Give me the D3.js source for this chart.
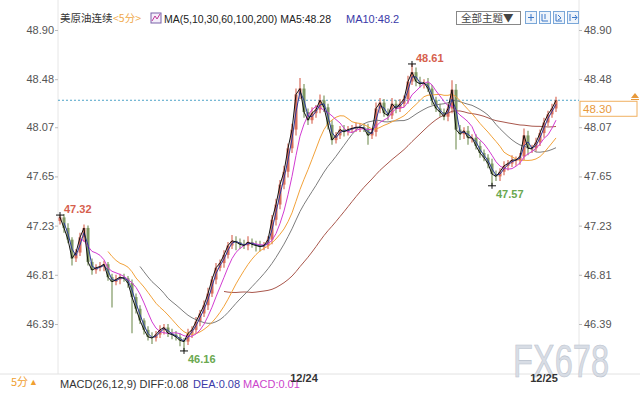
<!doctype html>
<html>
<head>
<meta charset="utf-8">
<script src="https://cdn.jsdelivr.net/npm/d3@7"></script>
<style>
  html, body { margin:0; padding:0; background:#fff; }
  svg { display:block; font-family: "Liberation Sans", Arial, sans-serif; }
  .cjk { font-family: "Noto Sans CJK SC", "Liberation Sans", sans-serif; }
</style>
</head>
<body>
<svg id="chart" width="640" height="400"></svg>
<script>
// 美原油连续 5分 — each bar here stands for ~5 real 5-minute bars
var yTicks = [48.90, 48.48, 48.07, 47.65, 47.23, 46.81, 46.39];
var firstOpen = 47.27;
var closes = [
  47.30, 47.21, 47.11, 46.95, 47.00, 47.13, 47.21, 46.92, 46.85, 46.87,
  46.88, 46.90, 46.79, 46.75, 46.77, 46.79, 46.78, 46.74, 46.62, 46.52,
  46.42, 46.34, 46.28, 46.27, 46.30, 46.34, 46.36, 46.31, 46.30, 46.28,
  46.25, 46.24, 46.31, 46.34, 46.41, 46.48, 46.55, 46.65, 46.77, 46.87,
  46.91, 46.98, 47.06, 47.10, 47.09, 47.07, 47.06, 47.09, 47.07, 47.06,
  47.05, 47.06, 47.11, 47.28, 47.41, 47.58, 47.69, 47.89, 48.05, 48.35,
  48.40, 48.20, 48.13, 48.19, 48.22, 48.30, 48.24, 48.09, 47.96, 48.00,
  48.05, 48.03, 48.05, 48.06, 48.07, 48.07, 48.06, 48.00, 48.03, 48.23,
  48.28, 48.19, 48.17, 48.27, 48.23, 48.27, 48.31, 48.46, 48.54, 48.46,
  48.44, 48.45, 48.40, 48.30, 48.23, 48.20, 48.16, 48.23, 48.39, 48.05,
  48.01, 48.04, 47.98, 47.98, 47.91, 47.85, 47.81, 47.76, 47.67, 47.65,
  47.69, 47.74, 47.76, 47.79, 47.79, 47.82, 48.00, 47.89, 47.89, 47.94,
  48.02, 48.11, 48.18, 48.23, 48.30
];
// wick lengths in cents above max(open,close) / below min(open,close)
var upWick = [
  2,3,4,2,3,4,3,2,3,3, 4,3,2,3,4,3,3,2,3,3, 3,2,3,4,3,4,3,3,4,3,
  3,2,4,3,4,3,4,5,3,4, 3,4,3,5,4,3,4,5,3,3, 4,3,3,4,5,4,5,4,5,5,
  9,4,3,5,4,5,4,3,4,3, 3,4,3,3,4,3,3,4,3,5, 4,3,4,5,3,4,3,5,7,4,
  4,3,4,3,3,4,3,4,8,5, 4,3,4,3,3,4,3,3,4,3, 3,4,3,4,3,3,6,4,3,4,
  3,4,3,4,3
];
var downWick = [
  3,4,3,6,3,3,4,3,4,3, 3,4,3,22,3,4,3,4,31,4, 3,4,3,5,3,3,4,3,4,3,
  5,8,3,4,3,4,3,4,3,4, 3,4,3,3,7,4,3,4,3,5, 4,3,3,4,5,4,4,5,4,5,
  4,5,4,3,4,3,4,4,4,3, 3,4,3,3,3,4,3,8,3,4, 4,3,4,3,4,3,3,4,3,4,
  3,4,3,4,3,4,3,4,4,17, 5,4,6,4,3,4,3,4,10,4, 4,3,4,3,5,4,3,6,4,3,
  3,4,3,3,3
];
var maPeriods = [5, 10, 30, 60, 100, 200];
var maColors = ["#111111", "#2c3a9c", "#d23cd2", "#f2a23a", "#7d7d7d", "#a9574c"];
var barsPerPoint = 4.8;
var dayIdx = [61, 121];
var dayLabels = ["12/24", "12/25"];
var extremes = [{i: 0, kind: "high"}, {i: 31, kind: "low"}, {i: 88, kind: "high"}, {i: 108, kind: "low"}];
var lastPrice = 48.30;

var svg = d3.select("#chart");
var W = 640, H = 400;
var left = 58, right = 579;

var bars = closes.map(function (c, i) {
  var o = i === 0 ? firstOpen : closes[i - 1];
  return {
    i: i, o: o, c: c,
    h: Math.max(o, c) + upWick[i] / 100,
    l: Math.min(o, c) - downWick[i] / 100
  };
});

var x = d3.scaleLinear().domain([0, closes.length - 1]).range([60, 556]);
var y = d3.scaleLinear().domain([46.39, 48.90]).range([324, 30]);

// frame lines
svg.append("line").attr("x1", left).attr("x2", left).attr("y1", 0).attr("y2", 374)
  .attr("stroke", "#e6e6e6");
svg.append("line").attr("x1", right).attr("x2", right).attr("y1", 0).attr("y2", 374)
  .attr("stroke", "#e6e6e6");
svg.append("line").attr("x1", 0).attr("x2", W).attr("y1", 374).attr("y2", 374)
  .attr("stroke", "#e2e2e2");

// axes
var axL = svg.append("g").attr("transform", "translate(" + left + ",0)")
  .call(d3.axisLeft(y).tickValues(yTicks).tickFormat(d3.format(".2f")).tickSize(3).tickPadding(1));
var axR = svg.append("g").attr("transform", "translate(" + right + ",0)")
  .call(d3.axisRight(y).tickValues(yTicks).tickFormat(d3.format(".2f")).tickSize(3).tickPadding(2));
[axL, axR].forEach(function (g) {
  g.select(".domain").remove();
  g.selectAll(".tick line").attr("stroke", "#bbb");
  g.selectAll(".tick text").attr("fill", "#555").attr("font-size", 11)
    .attr("font-family", "Liberation Sans, Arial, sans-serif");
});

// last price dashed line
svg.append("line").attr("x1", left).attr("x2", right)
  .attr("y1", y(lastPrice)).attr("y2", y(lastPrice))
  .attr("stroke", "#4fa3c7").attr("stroke-dasharray", "2,2");

// candles
var up = "#d96e5c", down = "#7f9862";
var cg = svg.append("g");
cg.selectAll("line.wick").data(bars).enter().append("line")
  .attr("x1", function (d) { return x(d.i); }).attr("x2", function (d) { return x(d.i); })
  .attr("y1", function (d) { return y(d.h); }).attr("y2", function (d) { return y(d.l); })
  .attr("stroke", function (d) { return d.c >= d.o ? up : down; }).attr("stroke-width", 1.2);
cg.selectAll("rect").data(bars).enter().append("rect")
  .attr("x", function (d) { return x(d.i) - 1.5; })
  .attr("width", 3)
  .attr("y", function (d) { return y(Math.max(d.o, d.c)); })
  .attr("height", function (d) { return Math.max(1, Math.abs(y(d.o) - y(d.c))); })
  .attr("fill", function (d) { return d.c >= d.o ? up : down; });

// moving averages
var line = d3.line().x(function (d) { return x(d[0]); }).y(function (d) { return y(d[1]); });
maPeriods.map(function (p, k) {
  var w = Math.max(1, Math.round(p / barsPerPoint));
  var pts = [];
  for (var i = w - 1; i < closes.length; i++) {
    pts.push([i, d3.mean(closes.slice(i - w + 1, i + 1))]);
  }
  return {pts: pts, color: maColors[k]};
}).reverse().forEach(function (m) {
  svg.append("path").datum(m.pts).attr("d", line)
    .attr("fill", "none").attr("stroke", m.color).attr("stroke-width", 1);
});

// extreme markers
extremes.forEach(function (e) {
  var b = bars[e.i];
  var v = e.kind === "high" ? b.h : b.l;
  var px = x(b.i), py = y(v);
  svg.append("line").attr("x1", px - 4).attr("x2", px + 4).attr("y1", py).attr("y2", py).attr("stroke", "#111");
  svg.append("line").attr("x1", px).attr("x2", px).attr("y1", py - 3).attr("y2", py + 3).attr("stroke", "#111");
  svg.append("text")
    .attr("x", px + 4)
    .attr("y", e.kind === "high" ? py - 2 : py + 12)
    .attr("font-size", 11).attr("font-weight", "bold")
    .attr("fill", e.kind === "high" ? "#d6604d" : "#6aa84f")
    .text(v.toFixed(2));
});

// right price tag
var ty = y(lastPrice);
svg.append("rect").attr("x", 580).attr("y", ty + 1).attr("width", 57).attr("height", 15)
  .attr("fill", "#fff").attr("stroke", "#f0b060");
svg.append("text").attr("x", 583).attr("y", ty + 13).attr("font-size", 11.5)
  .attr("fill", "#e89a3c").text(lastPrice.toFixed(2));
svg.append("path").attr("d", "M631,98 L635,93 L639,98 Z M631,99 L639,99 L639,100 L631,100 Z")
  .attr("fill", "#e89a3c");

// header
svg.append("text").attr("class", "cjk").attr("x", 60).attr("y", 22).attr("font-size", 10.5)
  .attr("fill", "#333").text("美原油连续");
svg.append("text").attr("class", "cjk").attr("x", 113).attr("y", 22).attr("font-size", 10.5)
  .attr("fill", "#f0a848").text("<5分>");
svg.append("rect").attr("x", 151).attr("y", 13).attr("width", 10).attr("height", 10)
  .attr("fill", "#f4eefa").attr("stroke", "#7a62a8");
svg.append("path").attr("d", "M152,21 L155,16 L157,19 L160,14").attr("fill", "none")
  .attr("stroke", "#c0399a").attr("stroke-width", 1);
svg.append("text").attr("x", 164).attr("y", 23).attr("font-size", 11).attr("fill", "#222")
  .attr("textLength", 167).attr("lengthAdjust", "spacingAndGlyphs")
  .text("MA(5,10,30,60,100,200) MA5:48.28");
svg.append("text").attr("x", 346).attr("y", 23).attr("font-size", 11).attr("fill", "#3a3aa8")
  .text("MA10:48.2");

svg.append("rect").attr("x", 456.5).attr("y", 11.5).attr("width", 64).attr("height", 13)
  .attr("fill", "#fff").attr("stroke", "#888");
svg.append("text").attr("class", "cjk").attr("x", 461).attr("y", 22).attr("font-size", 10.5)
  .attr("fill", "#444").text("全部主题▼");
[525, 539, 553, 567].forEach(function (bx, k) {
  svg.append("rect").attr("x", bx + 0.5).attr("y", 11.5).attr("width", 11).attr("height", 12)
    .attr("fill", "#eef4fb").attr("stroke", "#7aa7d8");
  var gl = ["M528,17.5 L534,17.5 M531,14 L531,21",
            "M542,14 L542,21 L548,21 M545,14 L545,19",
            "M556,14 L556,21 L562,21 M558,15 L561,18 L558,20",
            "M570,14 L570,21 M572,17.5 L577,17.5 M575,15 L577,17.5 L575,20"][k];
  svg.append("path").attr("d", gl).attr("fill", "none").attr("stroke", "#3c78c8").attr("stroke-width", 1);
});

// footer
svg.append("text").attr("class", "cjk").attr("x", 11).attr("y", 386).attr("font-size", 11)
  .attr("fill", "#f0a030").text("5分");
svg.append("text").attr("x", 29).attr("y", 385).attr("font-size", 9)
  .attr("fill", "#f0a030").text("▲");
svg.append("text").attr("x", 60).attr("y", 388).attr("font-size", 11).attr("fill", "#333")
  .text("MACD(26,12,9) DIFF:0.08");
svg.append("text").attr("x", 193).attr("y", 388).attr("font-size", 11).attr("fill", "#3a3aa8")
  .text("DEA:0.08");
svg.append("text").attr("x", 243).attr("y", 388).attr("font-size", 11).attr("fill", "#cc44cc")
  .text("MACD:0.01");

// watermark
svg.append("text").attr("x", 513).attr("y", 377).attr("font-size", 46)
  .attr("textLength", 96).attr("lengthAdjust", "spacingAndGlyphs")
  .attr("fill", "#d8dde5").attr("stroke", "#b9c1cd").attr("stroke-width", 0.6)
  .text("FX678");

// day labels
dayIdx.forEach(function (di, k) {
  svg.append("text").attr("x", x(di)).attr("y", 382).attr("text-anchor", "middle")
    .attr("font-size", 11).attr("font-weight", "bold").attr("fill", "#333")
    .text(dayLabels[k]);
});
</script>
</body>
</html>
